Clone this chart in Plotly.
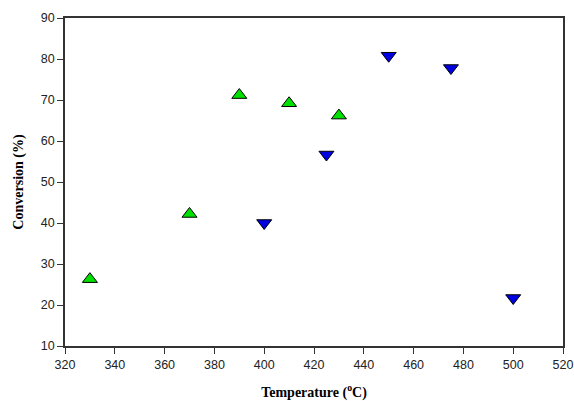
import plotly.graph_objects as go

green_temp = [330, 370, 390, 410, 430]
green_conv = [26.3, 42.2, 71.2, 69.2, 66.2]
blue_temp = [400, 425, 450, 475, 500]
blue_conv = [40.0, 56.7, 80.8, 77.8, 21.7]

x_ticks = list(range(320, 521, 20))
y_ticks = list(range(10, 91, 10))

fig = go.Figure()
fig.add_trace(go.Scatter(x=green_temp, y=green_conv, mode="markers",
                         marker=dict(symbol="triangle-up", size=13, color="#00e000",
                                     line=dict(color="black", width=1))))
fig.add_trace(go.Scatter(x=blue_temp, y=blue_conv, mode="markers",
                         marker=dict(symbol="triangle-down", size=13, color="#0000e0",
                                     line=dict(color="black", width=1))))

axis_common = dict(showgrid=False, zeroline=False, showline=True, linecolor="#333333",
                   linewidth=1.5, mirror=True, ticks="outside", ticklen=6,
                   tickcolor="#333333", automargin=False, ticklabeloverflow="allow",
                   tickfont=dict(family="Arial, Liberation Sans", size=12.5, color="#222222"))

fig.update_layout(
    width=574, height=401,
    margin=dict(l=65, r=11, t=18, b=55),
    paper_bgcolor="white", plot_bgcolor="white",
    showlegend=False,
    xaxis=dict(range=[320, 520], tickvals=x_ticks,
               title=dict(text="<b>Temperature (<sup>o</sup>C)</b>", standoff=16,
                          font=dict(family="Liberation Serif, Times New Roman", size=14, color="black")),
               **axis_common),
    yaxis=dict(range=[10, 90], tickvals=y_ticks,
               title=dict(text="<b>Conversion (%)</b>", standoff=14,
                          font=dict(family="Liberation Serif, Times New Roman", size=14, color="black")),
               **axis_common),
)

fig.write_html("out.html", config={"displayModeBar": False},
               post_script="document.body.style.margin='0';document.body.style.overflow='hidden';")
